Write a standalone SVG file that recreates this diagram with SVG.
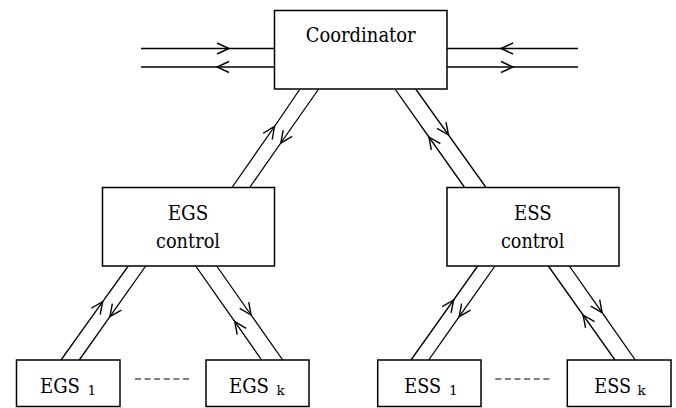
<svg xmlns="http://www.w3.org/2000/svg" width="676" height="408" viewBox="0 0 676 408">
<style>
.box{fill:#fff;stroke:#000;stroke-width:1.5}
.ln{fill:none;stroke:#000;stroke-width:1.3;marker-mid:url(#chev)}
.dash{fill:none;stroke:#000;stroke-width:1.2;stroke-dasharray:6 3.6}
.t{font-family:'DejaVu Serif','Liberation Serif',serif;font-size:20px;fill:#000}
.c{text-anchor:middle}
.sub{font-size:13.5px}
</style>
<defs>
<marker id="chev" markerUnits="userSpaceOnUse" markerWidth="30" markerHeight="30" viewBox="-15 -15 30 30" refX="0" refY="0" orient="auto" overflow="visible">
<path d="M-12,-5.5 L0,0 L-12,5.5" fill="none" stroke="#000" stroke-width="1.4"/>
</marker>
</defs>
<rect width="676" height="408" fill="#fff"/>
<g id="connectors">
<path class="ln" d="M141,48.5 L229,48.5 L274,48.5"/>
<path class="ln" d="M274,67 L217,67 L141,67"/>
<path class="ln" d="M578,48.5 L501,48.5 L447,48.5"/>
<path class="ln" d="M447,67 L513,67 L578,67"/>
<path class="ln" d="M232.3,187 L274.5,126.5 L300,89"/>
<path class="ln" d="M318.7,89 L280.8,143 L250,187"/>
<path class="ln" d="M464.3,187 L428.9,137 L395,89"/>
<path class="ln" d="M415.7,89 L448.5,135 L485.7,187"/>
<path class="ln" d="M61,360 L102.7,301.7 L128.3,266"/>
<path class="ln" d="M145.7,266 L109.9,316.7 L79.3,360"/>
<path class="ln" d="M261.7,360 L234.8,321.7 L195.7,266"/>
<path class="ln" d="M216.7,266 L251.1,315 L282.7,360"/>
<path class="ln" d="M411,360 L453.6,300 L477.7,266"/>
<path class="ln" d="M495,266 L459.2,316.7 L428.7,360"/>
<path class="ln" d="M615,360 L583.1,315 L548.3,266"/>
<path class="ln" d="M569.3,266 L602.1,312.7 L635.3,360"/>
<path class="dash" d="M135,379 H191"/>
<path class="dash" d="M495.3,379 H551"/>
</g>
<g id="coordinator">
<rect class="box" x="274.5" y="10.5" width="172.5" height="78.5"/>
<text class="t" x="305.7" y="42" textLength="110" lengthAdjust="spacingAndGlyphs">Coordinator</text>
</g>
<g id="egs-control">
<rect class="box" x="102.5" y="187.5" width="172" height="78.5"/>
<text class="t" x="167.7" y="220" textLength="40.6" lengthAdjust="spacingAndGlyphs">EGS</text>
<text class="t" x="156" y="248" textLength="64" lengthAdjust="spacingAndGlyphs">control</text>
</g>
<g id="ess-control">
<rect class="box" x="447" y="187.5" width="172" height="78.5"/>
<text class="t" x="514" y="220" textLength="37.7" lengthAdjust="spacingAndGlyphs">ESS</text>
<text class="t" x="501" y="248" textLength="63.3" lengthAdjust="spacingAndGlyphs">control</text>
</g>
<g id="egs1">
<rect class="box" x="16.5" y="360" width="103.5" height="46.5"/>
<text class="t" x="40" y="393" textLength="40" lengthAdjust="spacingAndGlyphs">EGS</text>
<text class="t sub" x="87.5" y="394.5">1</text>
</g>
<g id="egsk">
<rect class="box" x="206" y="360" width="103" height="46.5"/>
<text class="t" x="229" y="393" textLength="40" lengthAdjust="spacingAndGlyphs">EGS</text>
<text class="t sub" x="276.5" y="394.5">k</text>
</g>
<g id="ess1">
<rect class="box" x="377.7" y="360" width="103.3" height="46.5"/>
<text class="t" x="404.3" y="393" textLength="36.7" lengthAdjust="spacingAndGlyphs">ESS</text>
<text class="t sub" x="449" y="394.5">1</text>
</g>
<g id="essk">
<rect class="box" x="567.3" y="360" width="103.7" height="46.5"/>
<text class="t" x="594.3" y="393" textLength="36.7" lengthAdjust="spacingAndGlyphs">ESS</text>
<text class="t sub" x="637.5" y="394.5">k</text>
</g>
</svg>
